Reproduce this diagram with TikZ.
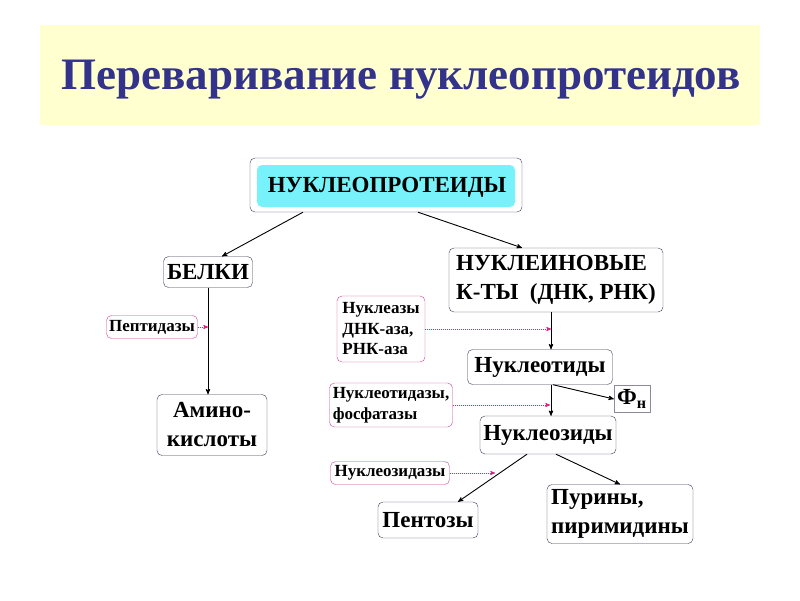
\documentclass[tikz,border=0pt]{standalone}
\usepackage{fontspec}
\setmainfont{Liberation Serif}
\newfontfamily\titlefont{Liberation Serif}
\usetikzlibrary{arrows,positioning,shapes}

\definecolor{bannerfill}{RGB}{255,255,208}
\definecolor{titleblue}{RGB}{51,51,140}
\definecolor{boxline}{RGB}{60,60,90}
\definecolor{glow}{RGB}{120,242,250}
\definecolor{enzline}{RGB}{200,70,150}
\definecolor{enzarrow}{RGB}{230,30,130}

\begin{document}
\begin{tikzpicture}[x=1pt,y=-1pt,->,>=stealth',thin]
\tikzstyle{every node}=[inner sep=0pt]
\tikzstyle{box}=[draw=boxline,fill=white,rounded corners=5pt,font=\bfseries\fontsize{23}{29}\selectfont]
\tikzstyle{enzyme}=[draw=enzline,fill=white,rounded corners=5pt,font=\bfseries\fontsize{17}{20.5}\selectfont,align=left]
\tikzstyle{link}=[line width=0.9pt]
\tikzstyle{enz}=[enzarrow,line width=0.7pt,dash pattern=on 1pt off 1pt]

\useasboundingbox[fill=white] (0,0) rectangle (800,600);
\fill[bannerfill] (40,25) rectangle (760,125);
\node[font=\titlefont\bfseries\fontsize{45}{50}\selectfont,text=titleblue] (title) at (401,80) {Переваривание нуклеопротеидов};

% main boxes
\node[box,minimum width=272pt,minimum height=54pt] (prot) at (386,185) {};
\node[fill=glow,rounded corners=5pt,minimum width=258pt,minimum height=42pt] (glowbox) at (386,186) {};
\node[font=\bfseries\fontsize{23}{29}\selectfont] (protlabel) at (387,187) {НУКЛЕОПРОТЕИДЫ};
\node[box,minimum width=89pt,minimum height=31pt] (belki) at (208,272) {БЕЛКИ};
\node[box,minimum width=214pt,minimum height=64pt,align=left] (nk) at (556,280) {НУКЛЕИНОВЫЕ\\К-ТЫ~~(ДНК, РНК)};
\node[box,minimum width=110pt,minimum height=61pt,align=center] (amino) at (212,425) {Амино-\\кислоты};
\node[box,minimum width=145pt,minimum height=35pt] (nuc) at (540,367) {Нуклеотиды};
\node[box,rounded corners=0pt,draw=boxline!60,minimum width=36pt,minimum height=27pt] (fn) at (632,399) {Ф\textsubscript{н}};
\node[box,minimum width=136pt,minimum height=38pt] (nzd) at (548,435) {Нуклеозиды};
\node[box,minimum width=100pt,minimum height=36pt] (pent) at (428,520) {Пентозы};
\node[box,minimum width=146pt,minimum height=59pt,align=left] (pur) at (620,514) {Пурины,\\пиримидины};

% enzymes
\node[enzyme,minimum width=91pt,minimum height=23pt] (pep) at (152,327) {Пептидазы};
\node[enzyme,minimum width=88pt,minimum height=66pt] (nucl) at (381,329) {Нуклеазы\\ДНК-аза,\\РНК-аза};
\node[enzyme,minimum width=123pt,minimum height=44pt] (ntd) at (391,405) {Нуклеотидазы,\\фосфатазы};
\node[enzyme,minimum width=119pt,minimum height=23pt] (nsd) at (390,473) {Нуклеозидазы};

\coordinate (hit1) at (551,329);
\coordinate (hit2) at (550,405);
\coordinate (hit3) at (495,473);

\draw[link] ([xshift=-83pt]prot.south) -- ([xshift=14pt]belki.north);
\draw[link] ([xshift=32pt]prot.south) -- ([xshift=-34pt]nk.north);
\draw[link] (belki.south) -- (belki.south |- amino.north);
\draw[link] ([xshift=-5pt]nk.south) -- ([xshift=11pt]nuc.north);
\draw[link] ([xshift=11pt]nuc.south) -- ([xshift=3pt]nzd.north);
\draw[link] ([xshift=13pt]nuc.south) -- (fn.west);
\draw[link] ([xshift=-21pt]nzd.south) -- ([xshift=30pt]pent.north);
\draw[link] ([xshift=8pt]nzd.south) -- (pur.north);

\draw[enz] (pep.east) -- (pep.east -| belki.south);
\draw[enz] (nucl.east) -- (hit1);
\draw[enz] (ntd.east) -- (hit2);
\draw[enz] (nsd.east) -- (hit3);
\end{tikzpicture}
\end{document}
